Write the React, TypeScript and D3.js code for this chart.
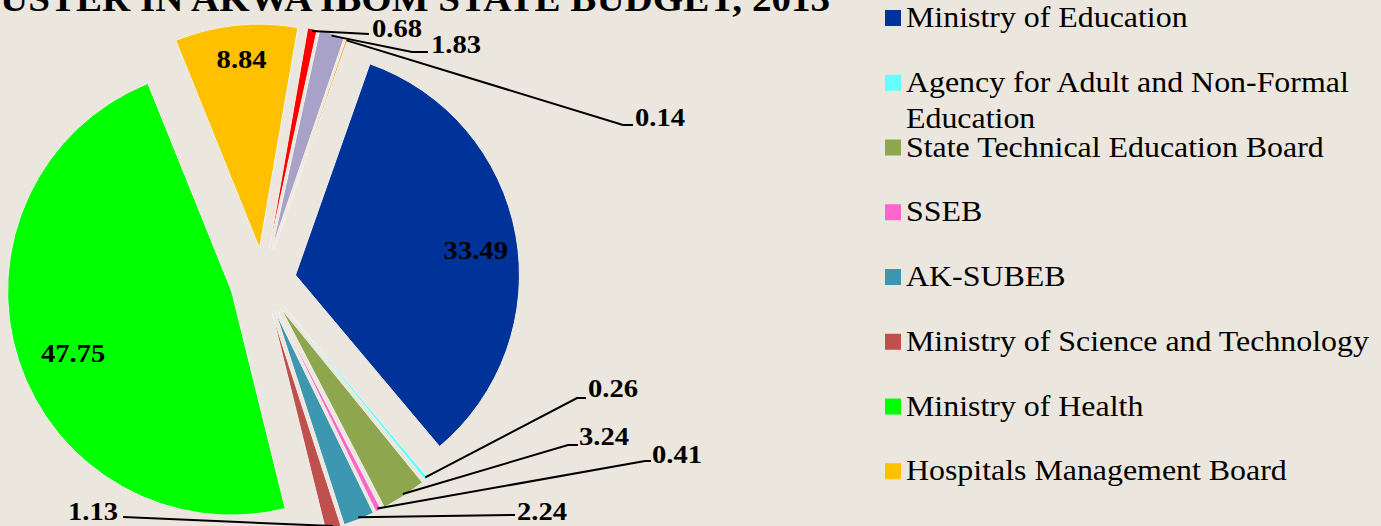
import React, { useEffect } from 'react';
import * as d3 from 'd3';

// ---- data ----
const categories: string[] = [
  'Ministry of Education',
  'Agency for Adult and Non-Formal Education',
  'State Technical Education Board',
  'SSEB',
  'AK-SUBEB',
  'Ministry of Science and Technology',
  'Ministry of Health',
  'Hospitals Management Board',
  'Other A',
  'Other B',
  'Other C',
];
const values: number[] = [33.49, 0.26, 3.24, 0.41, 2.24, 1.13, 47.75, 8.84, 0.68, 1.83, 0.14];
const colors: string[] = [
  '#003399', '#66FFFF', '#8EA64E', '#FF66CC', '#3E97B0', '#C0504D',
  '#00FF00', '#FFC000', '#FF0000', '#A9A2C8', '#F2A33A',
];
const legendCount = 8;
const titleText = 'USTER IN AKWA IBOM STATE BUDGET, 2013';
const insideLabelIdx: number[] = [0, 6, 7];

// ---- layout ----
const W = 1381;
const H = 526;
const CX = 263;
const CY = 281;
const R = 224;
const EXPLODE = 33;
const START_DEG = 19.4;
const FONT_STYLE = { fontFamily: 'Liberation Serif' };
const XS = 1.1; // horizontal stretch of the text in the reference

// nudges for the in-slice labels (layout only)
const insideNudge: Record<number, [number, number]> = {
  0: [4, 7],
  6: [12, 7],
  7: [1, -11],
};

type OL = { elbow: [number, number]; end: [number, number]; tx: number; ty: number; anchor?: 'start' | 'end' };
const outsideLayout: Record<number, OL> = {
  8: { elbow: [369, 34], end: [369, 34], tx: 372, ty: 37 },
  9: { elbow: [412, 52], end: [428, 52], tx: 431, ty: 53 },
  10: { elbow: [623, 125], end: [633, 125], tx: 635, ty: 126 },
  1: { elbow: [577, 398], end: [586, 398], tx: 588, ty: 397 },
  2: { elbow: [568, 445], end: [578, 445], tx: 579, ty: 445 },
  3: { elbow: [645, 461], end: [651, 461], tx: 652, ty: 463 },
  4: { elbow: [515, 515], end: [515, 515], tx: 517, ty: 520 },
  5: { elbow: [123, 517], end: [123, 517], tx: 118, ty: 520, anchor: 'end' },
};

const LEG_X = 885;
const LEG_TEXT_X = 906;
const LEG_Y0 = 27;
const LEG_STEP = 64.75;

function wrap(s: string): string[] {
  if (s.length <= 35) return [s];
  const i = s.lastIndexOf(' ');
  return [s.slice(0, i), s.slice(i + 1)];
}

export default function App() {
  useEffect(() => {
    document.body.style.margin = '0';
  }, []);

  const start = (START_DEG * Math.PI) / 180;
  const pie = d3
    .pie<number>()
    .sort(null)
    .value((d) => d)
    .startAngle(start)
    .endAngle(start + 2 * Math.PI);
  const arcs = pie(values);
  const arcGen = d3.arc<d3.PieArcDatum<number>>().innerRadius(0).outerRadius(R);
  const labelArc = d3.arc<d3.PieArcDatum<number>>().innerRadius(R * 0.8).outerRadius(R * 0.8);

  const offset = (d: d3.PieArcDatum<number>) => {
    const m = (d.startAngle + d.endAngle) / 2;
    return [EXPLODE * Math.sin(m), -EXPLODE * Math.cos(m)];
  };

  return (
    <svg width={W} height={H} style={{ display: 'block', background: '#EBE7DF' }}>
      <rect x={0} y={0} width={W} height={H} fill="#EBE7DF" />
      <text
        x={0}
        y={11}
        style={FONT_STYLE}
        fontWeight="bold"
        fontSize={36}
        textLength={830}
        lengthAdjust="spacingAndGlyphs"
        fill="#000"
      >
        {titleText}
      </text>

      <g transform={`translate(${CX},${CY})`}>
        {arcs.map((d, i) => {
          const [ox, oy] = offset(d);
          return (
            <path
              key={i}
              d={arcGen(d) || ''}
              transform={`translate(${ox},${oy})`}
              fill={colors[i]}
              stroke="#F4F2EC"
              strokeWidth={1}
            />
          );
        })}
      </g>

      {/* leader lines & outside labels */}
      {arcs.map((d, i) => {
        const L = outsideLayout[i];
        if (!L) return null;
        const [ox, oy] = offset(d);
        const m = (d.startAngle + d.endAngle) / 2;
        const sx = CX + ox + R * 0.99 * Math.sin(m);
        const sy = CY + oy - R * 0.99 * Math.cos(m);
        const pts = `${sx},${sy} ${L.elbow[0]},${L.elbow[1]} ${L.end[0]},${L.end[1]}`;
        return (
          <g key={'o' + i}>
            <polyline points={pts} fill="none" stroke="#000" strokeWidth={2} />
            <g transform={`translate(${L.tx},${L.ty}) scale(${XS},1)`}>
              <text
                x={0}
                y={0}
                style={FONT_STYLE}
                fontWeight="bold"
                fontSize={26}
                textAnchor={L.anchor || 'start'}
                fill="#000"
              >
                {values[i].toFixed(2)}
              </text>
            </g>
          </g>
        );
      })}

      {/* inside labels */}
      {insideLabelIdx.map((i) => {
        const d = arcs[i];
        const [ox, oy] = offset(d);
        const [lx, ly] = labelArc.centroid(d);
        const [nx, ny] = insideNudge[i] || [0, 0];
        return (
          <g
            key={'in' + i}
            transform={`translate(${CX + ox + lx + nx},${CY + oy + ly + 9 + ny}) scale(${XS},1)`}
          >
            <text x={0} y={0} style={FONT_STYLE} fontWeight="bold" fontSize={26} textAnchor="middle" fill="#000">
              {values[i].toFixed(2)}
            </text>
          </g>
        );
      })}

      {/* legend */}
      {categories.slice(0, legendCount).map((c, i) => {
        const by = LEG_Y0 + i * LEG_STEP;
        const lines = wrap(c);
        return (
          <g key={'lg' + i}>
            <rect x={LEG_X} y={by - 17} width={16} height={16} fill={colors[i]} />
            {lines.map((ln, j) => (
              <g key={j} transform={`translate(${LEG_TEXT_X},${by + j * 36}) scale(${XS},1)`}>
                <text x={0} y={0} style={FONT_STYLE} fontSize={29} fill="#000">
                  {ln}
                </text>
              </g>
            ))}
          </g>
        );
      })}
    </svg>
  );
}
